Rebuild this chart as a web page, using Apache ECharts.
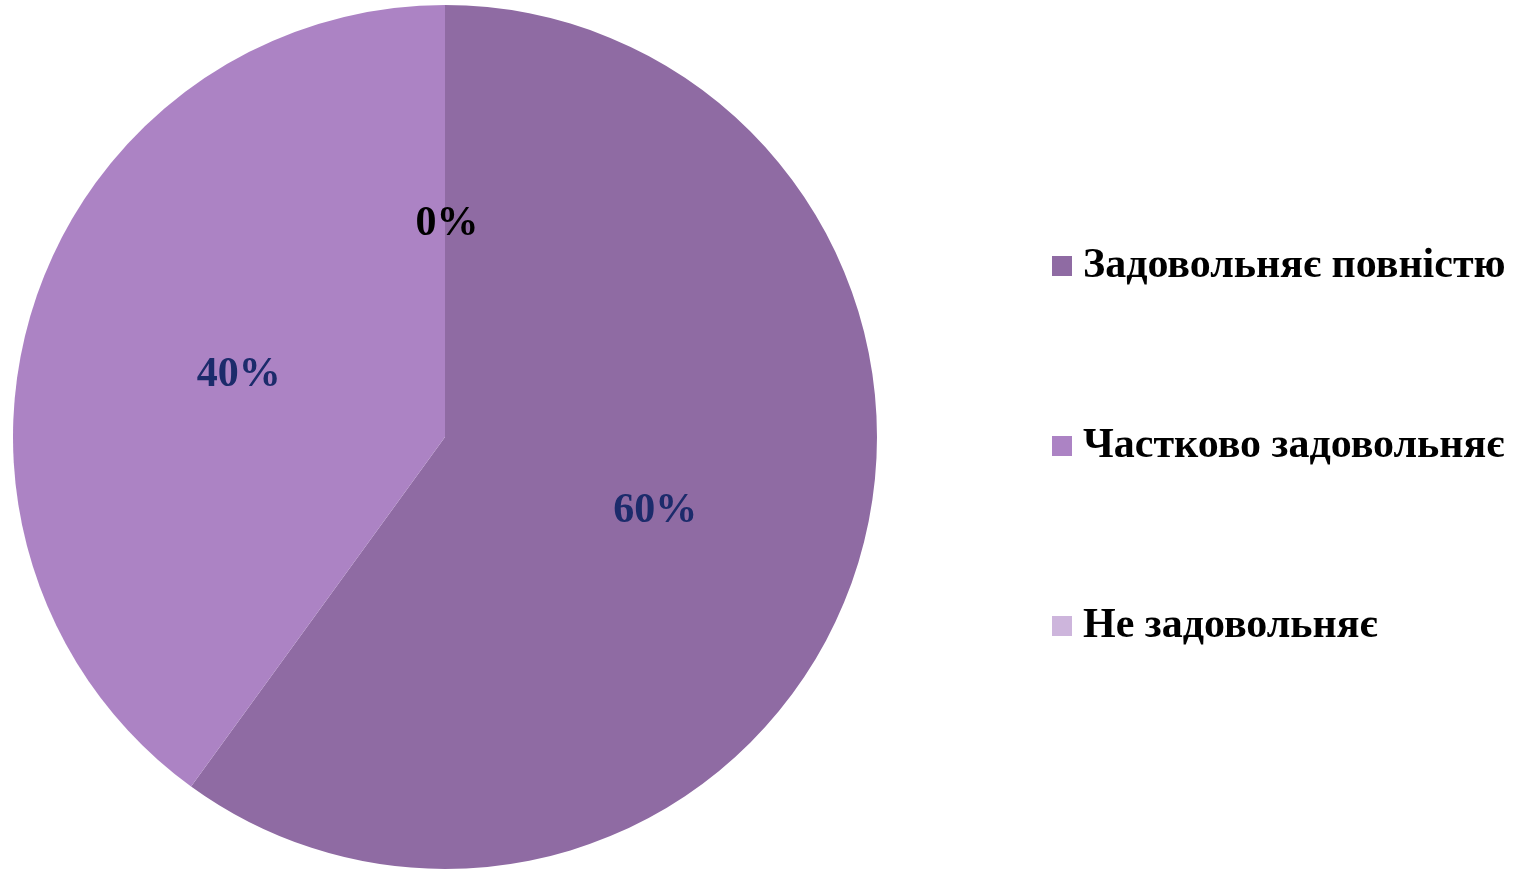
<!DOCTYPE html>
<html><head><meta charset="utf-8">
<script src="https://cdn.jsdelivr.net/npm/echarts@6/dist/echarts.min.js"></script>
<style>html,body{margin:0;padding:0;background:#fff}#c{width:1527px;height:869px}</style>
</head><body><div id="c"></div>
<script>
const categories = ['Задовольняє повністю', 'Частково задовольняє', 'Не задовольняє'];
const values = [60, 40, 0];
const colors = ['#8F6BA3', '#AC83C4', '#CDB5DC'];
const labelColors = ['#1C2B6B', '#1C2B6B', '#000000'];

const chart = echarts.init(document.getElementById('c'));
chart.setOption({
  animation: false,
  legend: {
    orient: 'vertical',
    left: 1047,
    top: 239,
    itemWidth: 20,
    itemHeight: 20,
    itemGap: 136,
    icon: 'rect',
    data: categories,
    textStyle: { fontFamily: 'Liberation Serif', fontWeight: 'bold', fontSize: 42, color: '#000', lineHeight: 44, padding: [0,0,0,6] }
  },
  series: [{
    type: 'pie',
    center: [445, 437],
    radius: [0, 432],
    startAngle: 90,
    clockwise: true,
    stillShowZeroSum: true,
    itemStyle: { borderWidth: 0 },
    label: {
      show: true,
      position: 'inside',
      formatter: p => Math.round(p.percent) + '%',
      fontFamily: 'Liberation Serif',
      fontWeight: 'bold',
      fontSize: 42,
      offset: [2, 6]
    },
    labelLine: { show: false },
    emphasis: { disabled: true },
    data: categories.map((n, i) => ({
      name: n, value: values[i],
      itemStyle: { color: colors[i] },
      label: { color: labelColors[i] }
    }))
  }]
});
</script></body></html>
